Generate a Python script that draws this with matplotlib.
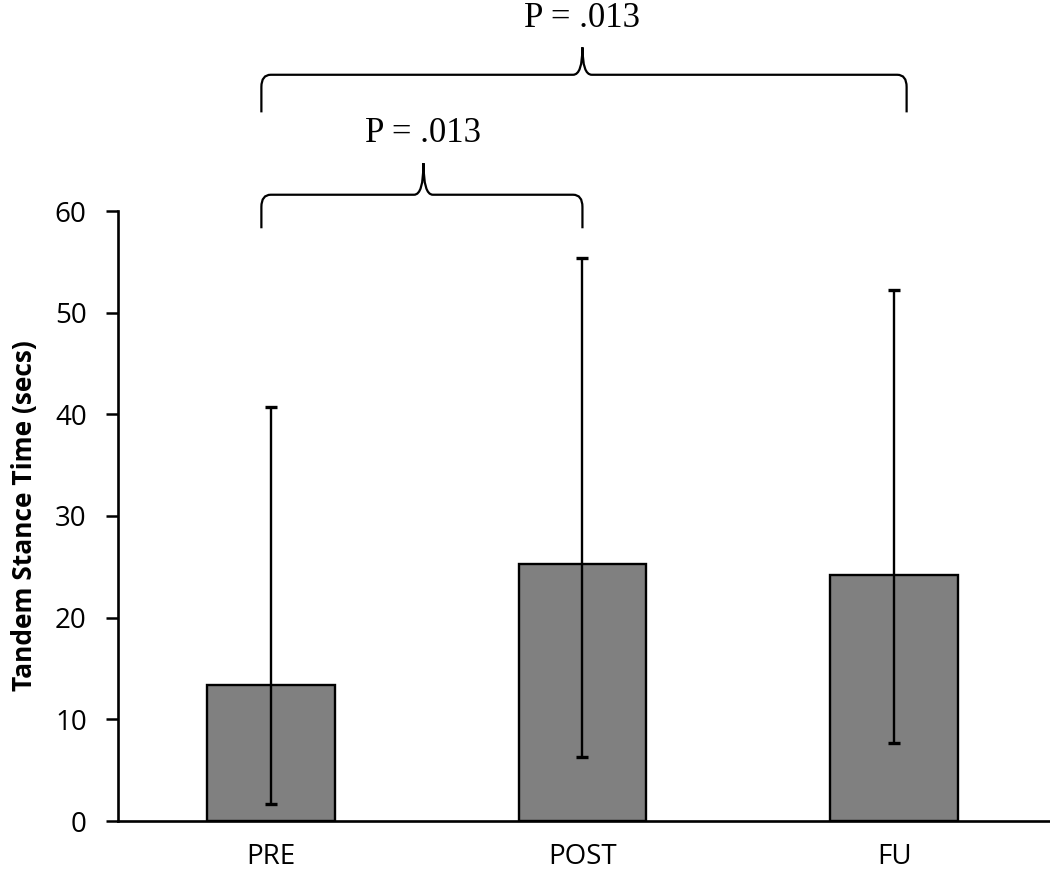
import matplotlib
matplotlib.use("Agg")
import matplotlib.pyplot as plt
from matplotlib.path import Path
from matplotlib.patches import PathPatch

# data
groups = ["PRE", "POST", "FU"]
means = [13.4, 25.3, 24.2]
err_top = [40.7, 55.4, 52.2]
err_bottom = [1.7, 6.3, 7.7]
p_labels = ["P = .013", "P = .013"]


def brace(ax, x0, x1, xm, y_end, y_bar, y_tip):
    # curly bracket: legs down at the ends, small peak in the middle
    r = 0.03
    verts = [
        (x0, y_end), (x0, y_bar - 1.2), (x0, y_bar), (x0 + r, y_bar),
        (xm - r, y_bar), (xm, y_bar), (xm, y_tip),
        (xm, y_bar), (xm + r, y_bar),
        (x1 - r, y_bar), (x1, y_bar), (x1, y_bar - 1.2), (x1, y_end),
    ]
    codes = [Path.MOVETO, Path.LINETO, Path.CURVE3, Path.CURVE3,
             Path.LINETO, Path.CURVE3, Path.CURVE3,
             Path.CURVE3, Path.CURVE3,
             Path.LINETO, Path.CURVE3, Path.CURVE3, Path.LINETO]
    ax.add_patch(PathPatch(Path(verts, codes), fill=False, lw=1.6,
                           edgecolor="black", clip_on=False))


fig = plt.figure(figsize=(10.5, 8.75), dpi=100)
ax = fig.add_axes([118 / 1050, 1 - 821 / 875, (1050 - 118) / 1050, (821 - 211) / 875])

x = list(range(len(groups)))
lower = [m - b for m, b in zip(means, err_bottom)]
upper = [t - m for m, t in zip(means, err_top)]

ax.bar(x, means, width=0.41, color="#808080", edgecolor="black", linewidth=1.7, zorder=2)
ax.errorbar(x, means, yerr=[lower, upper], fmt="none", ecolor="black",
            elinewidth=1.7, capsize=4.5, capthick=2.4, zorder=3)

ax.set_xlim(-0.49, 2.5)
ax.set_ylim(0, 60)
ax.set_yticks(range(0, 61, 10))
ax.set_xticks(x)
ax.set_xticklabels(groups, fontsize=20, family="Open Sans")
for lab in ax.get_yticklabels():
    lab.set_fontsize(20)
    lab.set_family("Open Sans")
ax.tick_params(axis="x", length=0, pad=16)
ax.tick_params(axis="y", length=8.5, width=1.8, pad=14)
ax.set_ylabel("Tandem Stance Time (secs)", fontsize=19, fontweight="bold",
              family="Open Sans", labelpad=12)

for side in ["top", "right"]:
    ax.spines[side].set_visible(False)
ax.spines["left"].set_linewidth(1.9)
ax.spines["bottom"].set_linewidth(1.9)

# brackets with p-values
brace(ax, -0.03, 1.0, 0.49, 58.3, 61.6, 64.7)
ax.text(0.49, 66.0, p_labels[0], ha="center", va="bottom", fontsize=25,
        family="Liberation Serif", clip_on=False)
brace(ax, -0.03, 2.04, 1.0, 69.7, 73.4, 76.1)
ax.text(1.0, 77.3, p_labels[1], ha="center", va="bottom", fontsize=25,
        family="Liberation Serif", clip_on=False)

fig.savefig("out.png", dpi=100)
